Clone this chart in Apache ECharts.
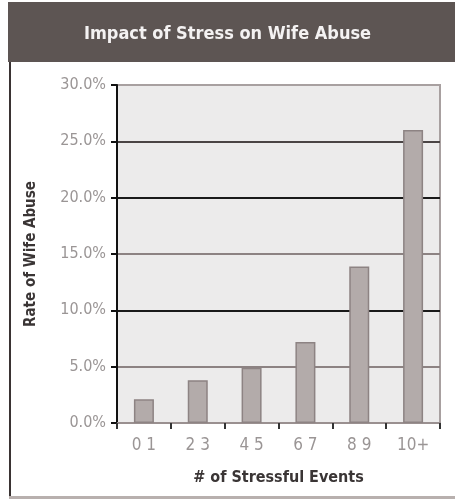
<!DOCTYPE html>
<html>
<head>
<meta charset="utf-8">
<script src="https://cdn.jsdelivr.net/npm/echarts@6/dist/echarts.min.js"></script>
<style>
  html, body { margin: 0; padding: 0; background: #ffffff; }
  #chart { width: 455px; height: 503px; }
</style>
</head>
<body>
<div id="chart"></div>
<script>
// Stress-event buckets and the abuse rate (%) measured in each
const categories = ['0 1', '2 3', '4 5', '6 7', '8 9', '10+'];
const abuseRate = [2.1, 3.8, 4.9, 7.2, 13.9, 26.0];
const yTicks = { min: 0, max: 30, interval: 5 };

const titleText = 'Impact of Stress on Wife Abuse';
const yAxisTitle = 'Rate of Wife Abuse';
const xAxisTitle = '# of Stressful Events';

const chart = echarts.init(document.getElementById('chart'));
const font = '"Liberation Sans Narrow", "DejaVu Sans Condensed", sans-serif';

chart.setOption({
  backgroundColor: '#ffffff',
  animation: false,
  graphic: [
    // header band
    { type: 'rect', left: 8, top: 2, shape: { width: 447, height: 60 },
      style: { fill: '#5d5553' }, z: 0 },
    { type: 'text', left: 'center', top: 25,
      style: { text: titleText, fill: '#f4f2f2', font: 'bold 18px ' + font }, z: 2 },
    // frame edges
    { type: 'rect', left: 9, top: 62, shape: { width: 2, height: 436 },
      style: { fill: '#3a3333' }, z: 0 },
    { type: 'rect', left: 9, top: 496, shape: { width: 446, height: 3 },
      style: { fill: '#b8b0ae' }, z: 0 }
  ],
  grid: {
    left: 117, right: 15, top: 85, bottom: 80,
    show: true, backgroundColor: '#ecebeb', borderColor: '#a8a0a0', borderWidth: 2
  },
  xAxis: {
    type: 'category',
    data: categories,
    name: xAxisTitle,
    nameLocation: 'middle',
    nameGap: 47,
    nameTextStyle: { color: '#3a3535', fontSize: 16, fontFamily: font, fontWeight: 'bold' },
    axisLine: { lineStyle: { color: '#9a9090', width: 2 } },
    axisTick: { show: true, alignWithLabel: false, length: 6, lineStyle: { color: '#333', width: 2 } },
    axisLabel: { color: '#9a9595', fontSize: 17, fontFamily: font, margin: 14 }
  },
  yAxis: {
    type: 'value',
    min: yTicks.min, max: yTicks.max, interval: yTicks.interval,
    name: yAxisTitle,
    nameLocation: 'middle',
    nameGap: 78,
    nameRotate: 90,
    nameTextStyle: { color: '#3a3535', fontSize: 15, fontFamily: font, fontWeight: 'bold' },
    axisLine: { show: true, lineStyle: { color: '#111', width: 2 } },
    axisTick: { show: true, length: 6, lineStyle: { color: '#111', width: 2 } },
    axisLabel: {
      color: '#9a9595', fontSize: 16, fontFamily: font, margin: 11,
      formatter: v => v.toFixed(1) + '%'
    },
    splitLine: {
      show: true,
      lineStyle: {
        width: 2,
        color: ['#9a9090', '#8c8282', '#1a1a1a', '#8c8282', '#1a1a1a', '#4a4444', '#a8a0a0']
      }
    }
  },
  series: [{
    type: 'bar',
    data: abuseRate,
    barWidth: 20,
    itemStyle: { color: '#b3abaa', borderColor: '#8d8383', borderWidth: 1.5 }
  }]
});
</script>
</body>
</html>
